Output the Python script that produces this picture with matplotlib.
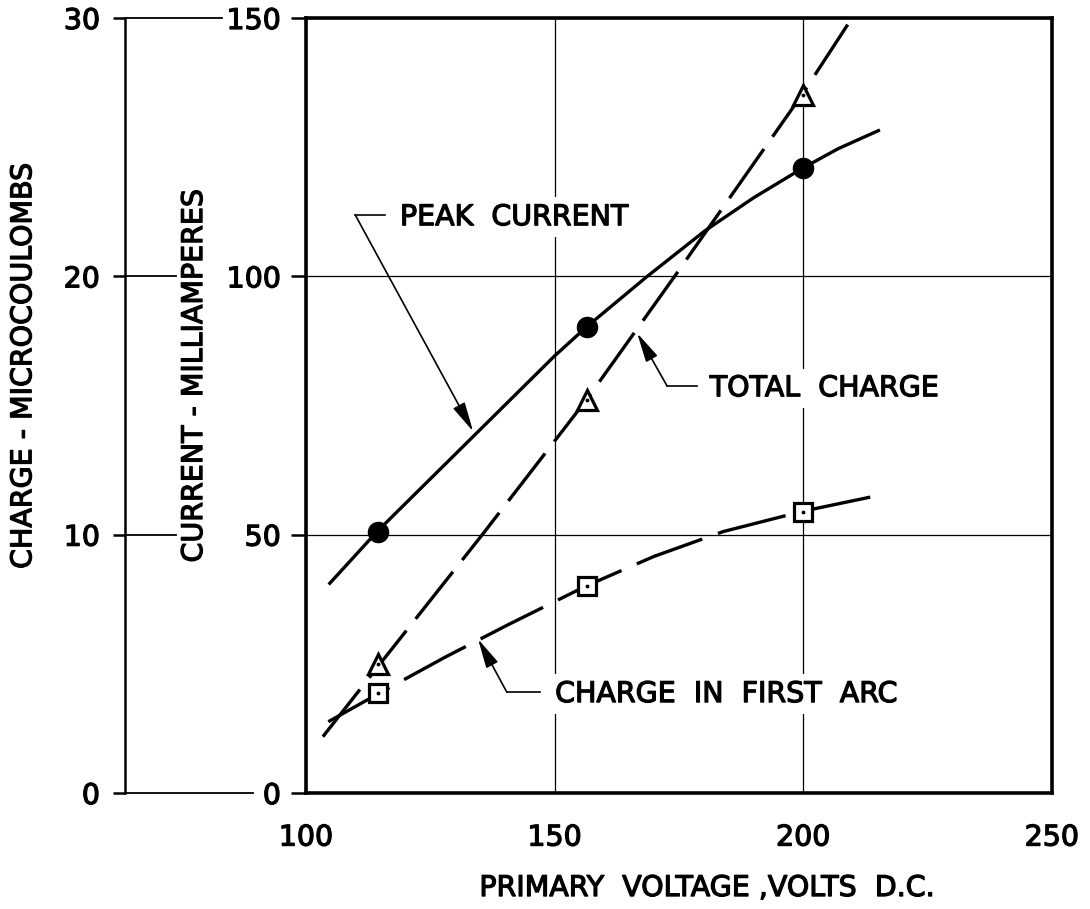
import matplotlib.pyplot as plt
import matplotlib.patheffects as pe
from matplotlib.transforms import blended_transform_factory

plt.rcParams['font.family'] = 'DejaVu Sans'

# measured points (primary volts d.c.)
volts = [114.5, 156.5, 200.0]
peak_current = [50.6, 90.2, 120.9]      # mA
total_charge = [5.0, 15.2, 27.0]        # microcoulombs
first_arc_charge = [3.86, 8.02, 10.88]  # microcoulombs

# faired curves through the measurements
peak_curve_x = [104.8, 114.3, 150.0, 156.4, 168.5, 180.2, 190.0, 199.8, 207.0, 215.1]
peak_curve_y = [40.6, 50.6, 84.6, 90.2, 99.9, 108.8, 115.2, 120.9, 124.7, 128.2]
total_curve_x = [103.4, 114.9, 135.7, 156.4, 174.2, 199.7, 209.8]
total_curve_y = [2.18, 5.0, 10.06, 15.22, 20.02, 27.02, 30.0]
arc_curve_x = [104.5, 114.7, 128.0, 140.7, 156.4, 170.0, 183.9, 200.2, 216.6]
arc_curve_y = [2.76, 3.86, 5.26, 6.52, 8.02, 9.16, 10.12, 10.92, 11.58]

volt_ticks = [100, 150, 200, 250]
current_ticks = [0, 50, 100, 150]
charge_ticks = [0, 10, 20, 30]

fs = 20.5
thick = [pe.withStroke(linewidth=0.9, foreground='k')]

fig = plt.figure(figsize=(10.9, 9.09), dpi=100)
ax = fig.add_axes([0.2807, 0.1276, 0.6844, 0.8526])
ax.set_xlim(100, 250)
ax.set_ylim(0, 150)
ax.set_xticks(volt_ticks)
ax.set_yticks(current_ticks)
ax.set_axisbelow(True)
ax.grid(True, color='black', lw=0.9)
ax.tick_params(axis='x', length=0, pad=22, labelsize=fs)
ax.tick_params(axis='y', direction='out', length=11, width=1.8, pad=7, labelsize=fs)
for s in ax.spines.values():
    s.set_linewidth(2.6)

# charge scale on a second spine further left
ax2 = ax.twinx()
ax2.set_ylim(0, 30)
ax2.set_yticks(charge_ticks)
ax2.yaxis.set_ticks_position('left')
ax2.yaxis.set_label_position('left')
ax2.spines['left'].set_position(('axes', -0.2426))
ax2.spines['left'].set_visible(True)
ax2.spines['left'].set_linewidth(1.8)
for k in ('right', 'top', 'bottom'):
    ax2.spines[k].set_visible(False)
ax2.tick_params(axis='y', direction='out', length=9, width=1.8, pad=9, labelsize=fs)

for lab in ax.get_xticklabels() + ax.get_yticklabels() + ax2.get_yticklabels():
    lab.set_path_effects(thick)

tr = blended_transform_factory(ax2.transAxes, ax2.transData)
tick_ends = [-0.071, -0.1743, -0.1743, -0.1126]
for v, xe in zip(charge_ticks, tick_ends):
    ax2.plot([-0.2426, xe], [v, v], transform=tr, color='k', lw=1.3, clip_on=False)

# axis titles
ax.text(-0.379, 0.551, 'CHARGE - MICROCOULOMBS', transform=ax.transAxes,
        rotation=90, ha='center', va='center', fontsize=fs, path_effects=thick)
ax.text(-0.150, 0.538, 'CURRENT - MILLIAMPERES', transform=ax.transAxes,
        rotation=90, ha='center', va='center', fontsize=fs, path_effects=thick)
ax.text(0.5375, -0.1226, 'PRIMARY  VOLTAGE ,VOLTS  D.C.', transform=ax.transAxes,
        ha='center', va='center', fontsize=fs, path_effects=thick)

# peak current
ax.plot(peak_curve_x, peak_curve_y, color='k', lw=2.4, zorder=3)
ax.plot(volts, peak_current, 'o', ms=14.5, color='k', zorder=4)

# total charge
ax2.plot(total_curve_x, total_curve_y, color='k', lw=2.4, dashes=(18, 4.5), zorder=3)
ax2.plot(volts, total_charge, '^', ms=15, mfc='white', mec='k', mew=2.3, zorder=4)
ax2.plot(volts, total_charge, '.', ms=3.5, color='k', zorder=5)

# charge in first arc
ax2.plot(arc_curve_x, arc_curve_y, color='k', lw=2.4, dashes=(21, 5), zorder=3)
ax2.plot(volts, first_arc_charge, 's', ms=12.5, mfc='white', mec='k', mew=2.3, zorder=4)
ax2.plot(volts, first_arc_charge, '.', ms=3.5, color='k', zorder=5)

# curve labels with leaders
labels = [
    ('PEAK  CURRENT', (118.9, 109.9), (109.9, 115.9, 111.9), (133.6, 70.0)),
    ('TOTAL  CHARGE', (181.2, 76.8), (172.6, 178.6, 78.8), (166.6, 89.0)),
    ('CHARGE  IN  FIRST  ARC', (150.1, 17.6), (140.4, 147.0, 19.5), (134.6, 29.8)),
]
for txt, (tx, ty), (x0, x1, ly), tip in labels:
    ax.text(tx, ty, txt, ha='left', va='baseline', fontsize=fs, zorder=2,
            path_effects=thick, bbox=dict(fc='white', ec='none', pad=4))
    ax.plot([x0, x1], [ly, ly], color='k', lw=1.2, zorder=2)
    ax.annotate('', xy=tip, xytext=(x0, ly), zorder=2,
                arrowprops=dict(arrowstyle='-|>,head_length=0.9,head_width=0.2',
                                color='k', lw=1.2, shrinkA=0, shrinkB=0,
                                mutation_scale=20))

fig.savefig('out.png', dpi=100)
